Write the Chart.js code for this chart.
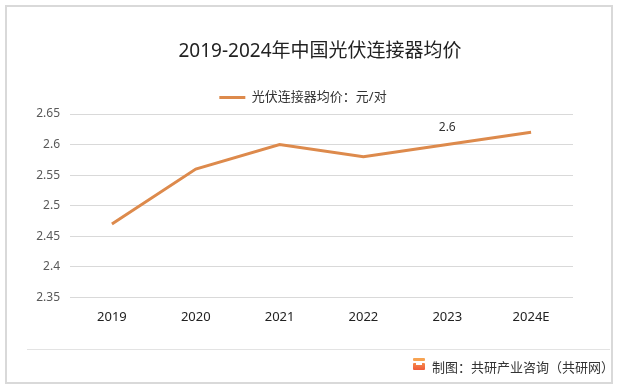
<!DOCTYPE html>
<html>
<head>
<meta charset="utf-8">
<script src="https://cdn.jsdelivr.net/npm/chart.js@4.4.1/dist/chart.umd.min.js"></script>
<style>
  html, body { margin: 0; padding: 0; background: #fff; }
  #wrap { position: relative; width: 617px; height: 388px; overflow: hidden; background: #fff; }
  #frame { position: absolute; left: 5px; top: 5px; width: 604px; height: 375px; border: 2px solid #d9d9d9; box-sizing: content-box; }
  #sep { position: absolute; left: 27px; top: 349px; width: 583px; height: 1px; background: #e3e3e3; }
  #c { position: absolute; left: 0; top: 0; }
  #title { position: absolute; left: 0; width: 640px; top: 37px; text-align: center; font-family: "Noto Sans", "Noto Sans CJK SC", sans-serif; font-size: 19px; line-height: 26px; color: #222; white-space: nowrap; }
  #footer { position: absolute; left: 432px; top: 358px; font-family: "Noto Sans CJK SC", "Noto Sans", sans-serif; font-size: 13px; color: #333; white-space: nowrap; line-height: 18px; }
  #logo { position: absolute; left: 413px; top: 358px; width: 12px; height: 12px; }
  #logo .top { position: absolute; left: 0; top: 0; width: 12px; height: 3px; background: #f7a352; border-radius: 1px; }
  #logo .bot { position: absolute; left: 0; top: 5px; width: 12px; height: 7px; background: linear-gradient(#f68a4a, #ef5b3b); border-radius: 1px; }
  #logo .cut { position: absolute; left: 3px; top: 5px; width: 6px; height: 2px; background: #fff; }
</style>
</head>
<body>
<div id="wrap">
  <div id="frame"></div>
  <div id="sep"></div>
  <canvas id="c" width="617" height="388"></canvas>
  <div id="title"></div>
  <div id="logo"><div class="top"></div><div class="bot"></div><div class="cut"></div></div>
  <div id="footer">制图：共研产业咨询（共研网）</div>
</div>
<script>
const categories = ["2019", "2020", "2021", "2022", "2023", "2024E"];
const prices = [2.47, 2.56, 2.60, 2.58, 2.60, 2.62];
const yTicks = [2.35, 2.40, 2.45, 2.50, 2.55, 2.60, 2.65];
const labelledIndex = [4];
const seriesName = "光伏连接器均价：元/对";
const titleText = "2019-2024年中国光伏连接器均价";

document.getElementById("title").textContent = titleText;

const lineColor = "#dd8a4c";
const FONT = '"Noto Sans", "Noto Sans CJK SC", sans-serif';

const valueLabels = {
  id: "valueLabels",
  afterDatasetsDraw(chart) {
    const ctx = chart.ctx;
    const meta = chart.getDatasetMeta(0);
    ctx.save();
    ctx.font = "12px " + FONT;
    ctx.fillStyle = "#333";
    ctx.textAlign = "center";
    ctx.textBaseline = "middle";
    labelledIndex.forEach(i => {
      const p = meta.data[i];
      ctx.fillText(String(prices[i]), p.x, p.y - 17);
    });
    ctx.restore();
  }
};

new Chart(document.getElementById("c"), {
  type: "line",
  data: {
    labels: categories,
    datasets: [{
      label: seriesName,
      data: prices,
      borderColor: lineColor,
      backgroundColor: lineColor,
      borderWidth: 3,
      pointRadius: 0,
      pointHoverRadius: 0,
      tension: 0,
      fill: false
    }]
  },
  options: {
    responsive: false,
    animation: false,
    events: [],
    layout: { padding: { left: 33, right: 44, top: 81, bottom: 51 } },
    plugins: {
      title: { display: false },
      legend: {
        display: true,
        position: "top",
        labels: {
          usePointStyle: true,
          pointStyle: "line",
          pointStyleWidth: 26,
          color: "#333",
          font: { family: FONT, size: 13 },
          padding: 10
        }
      },
      tooltip: { enabled: false }
    },
    scales: {
      x: {
        offset: true,
        grid: { display: false, drawTicks: false },
        border: { display: false },
        ticks: { color: "#222", font: { family: FONT, size: 13 }, padding: 12 }
      },
      y: {
        min: 2.35,
        max: 2.65,
        afterBuildTicks(scale) { scale.ticks = yTicks.map(v => ({ value: v })); },
        afterFit(scale) { scale.width = 37; },
        grid: { color: "#d9d9d9", lineWidth: 1, drawTicks: false },
        border: { display: false },
        ticks: {
          color: "#595959",
          font: { family: FONT, size: 12 },
          padding: 10,
          callback: v => String(Math.round(v * 100) / 100)
        }
      }
    }
  },
  plugins: [valueLabels]
});
</script>
</body>
</html>
